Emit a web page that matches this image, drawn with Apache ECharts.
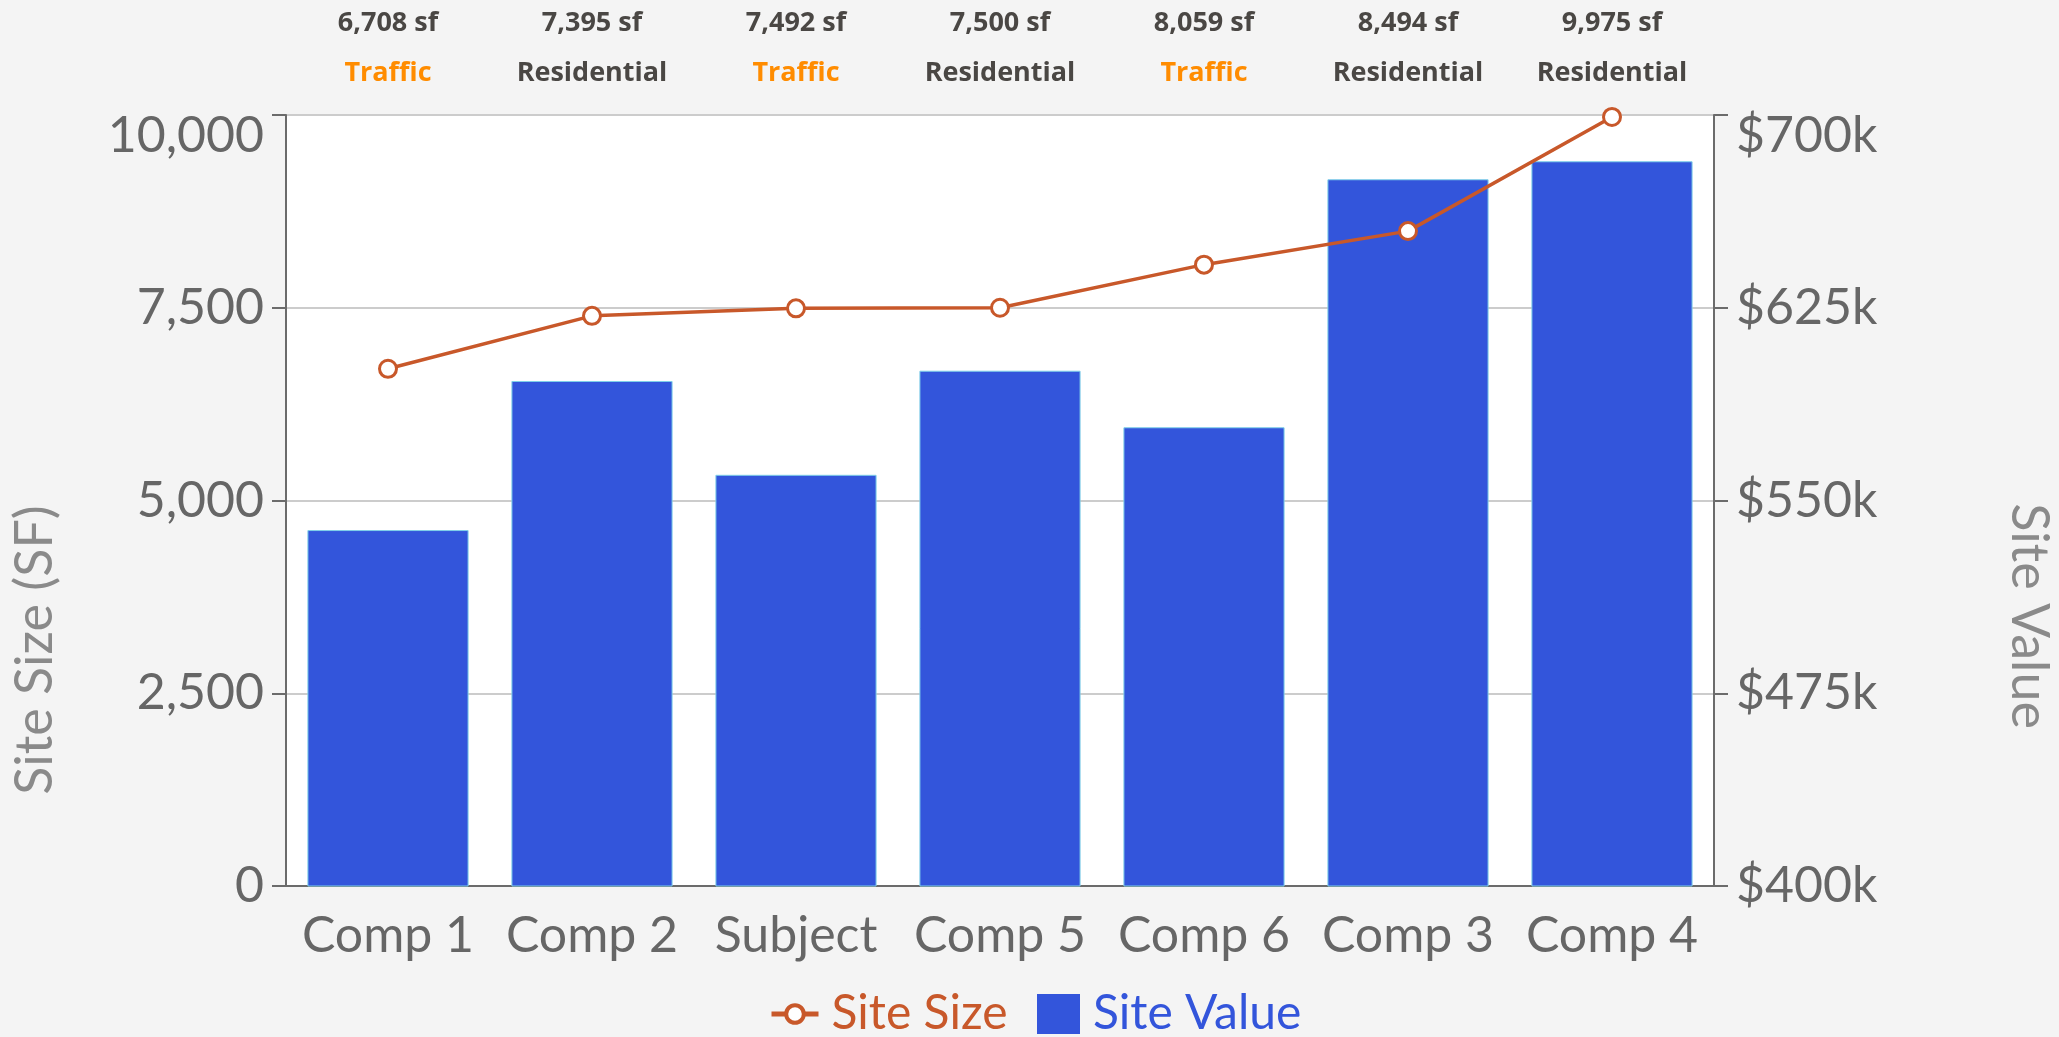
<!DOCTYPE html>
<html>
<head>
<meta charset="utf-8">
<title>Site Size and Site Value</title>
<script src="https://cdn.jsdelivr.net/npm/echarts@6/dist/echarts.min.js"></script>
<style>
  html, body { margin: 0; padding: 0; background: #f4f4f4; }
  #chart { width: 2059px; height: 1037px; }
</style>
</head>
<body>
<div id="chart"></div>
<script>
// Properties, in display order
const categories = ['Comp 1', 'Comp 2', 'Subject', 'Comp 5', 'Comp 6', 'Comp 3', 'Comp 4'];
// Site size in square feet (line, left axis)
const siteSize = [6708, 7395, 7492, 7500, 8059, 8494, 9975];
// Site value in dollars (bars, right axis)
const siteValue = [538500, 596500, 560000, 600500, 578500, 675000, 682000];
// Frontage type shown above each property
const frontage = ['Traffic', 'Residential', 'Traffic', 'Residential', 'Traffic', 'Residential', 'Residential'];
// Axis ranges
const sizeTicks = { min: 0, max: 10000, interval: 2500 };
const valueTicks = { min: 400000, max: 700000, interval: 75000 };

const FONT = 'Lato';
const AXIS_GRAY = '#6b6b6b';
const LABEL_GRAY = '#666666';
const NAME_GRAY = '#8a8a8a';
const LINE_COLOR = '#c8582a';
const BAR_COLOR = '#3355db';

// The top tick label of each value axis sits just below its gridline
function axisLabelStyle(fmt, maxValue) {
  return {
    color: LABEL_GRAY, fontSize: 50, fontFamily: FONT, margin: 22,
    formatter: v => (v === maxValue ? '{top|' + fmt(v) + '}' : fmt(v)),
    rich: { top: { color: LABEL_GRAY, fontSize: 50, fontFamily: FONT, padding: [42, 0, 0, 0] } }
  };
}

const chart = echarts.init(document.getElementById('chart'));

const legendText = { fontSize: 48, fontFamily: FONT, padding: [0, 0, 0, 8] };

chart.setOption({
  backgroundColor: '#f4f4f4',
  animation: false,
  textStyle: { fontFamily: FONT },
  grid: {
    left: 286, right: 345, top: 115, bottom: 151,
    show: true, backgroundColor: '#ffffff', borderWidth: 0
  },
  legend: [
    {
      left: 764, top: 985,
      itemWidth: 47, itemHeight: 22,
      textStyle: legendText,
      lineStyle: { width: 5 },
      itemStyle: { borderWidth: 4 },
      data: [{ name: 'Site Size', textStyle: { color: LINE_COLOR } }]
    },
    {
      left: 1032, top: 985,
      itemWidth: 43, itemHeight: 40,
      textStyle: legendText,
      itemStyle: { borderWidth: 0 },
      data: [{ name: 'Site Value', icon: 'rect', textStyle: { color: BAR_COLOR } }]
    }
  ],
  xAxis: [
    {
      type: 'category',
      data: categories,
      position: 'bottom',
      axisLine: { lineStyle: { color: AXIS_GRAY, width: 2 } },
      axisTick: { alignWithLabel: true, length: 16, lineStyle: { color: AXIS_GRAY, width: 2 } },
      axisLabel: { color: LABEL_GRAY, fontSize: 50, fontFamily: FONT, margin: 25, interval: 0 }
    },
    {
      type: 'category',
      data: categories,
      position: 'top',
      axisLine: { show: false },
      axisTick: { show: false },
      axisLabel: {
        interval: 0,
        margin: 17,
        formatter: function (v, i) {
          const kind = frontage[i] === 'Traffic' ? 't' : 'r';
          return '{s|' + siteSize[i].toLocaleString('en-US') + ' sf}\n{' + kind + '|' + frontage[i] + '}';
        },
        rich: {
          s: { fontFamily: 'Open Sans', fontWeight: 'bold', fontSize: 27, color: '#4a4744', lineHeight: 50 },
          t: { fontFamily: 'Open Sans', fontWeight: 'bold', fontSize: 27, color: '#ff8c00', lineHeight: 50 },
          r: { fontFamily: 'Open Sans', fontWeight: 'bold', fontSize: 27, color: '#4a4744', lineHeight: 50 }
        }
      }
    }
  ],
  yAxis: [
    {
      type: 'value',
      position: 'left',
      min: sizeTicks.min, max: sizeTicks.max, interval: sizeTicks.interval,
      axisLine: { show: true, lineStyle: { color: AXIS_GRAY, width: 2 } },
      axisTick: { show: true, length: 14, lineStyle: { color: AXIS_GRAY, width: 2 } },
      axisLabel: axisLabelStyle(v => v.toLocaleString('en-US'), sizeTicks.max),
      splitLine: { show: true, lineStyle: { color: '#cccccc', width: 2 } }
    },
    {
      type: 'value',
      position: 'right',
      min: valueTicks.min, max: valueTicks.max, interval: valueTicks.interval,
      axisLine: { show: true, lineStyle: { color: AXIS_GRAY, width: 2 } },
      axisTick: { show: true, length: 14, lineStyle: { color: AXIS_GRAY, width: 2 } },
      axisLabel: axisLabelStyle(v => '$' + Math.round(v / 1000) + 'k', valueTicks.max),
      splitLine: { show: false }
    }
  ],
  graphic: [
    {
      type: 'text', x: 35, y: 650, rotation: Math.PI / 2,
      style: { text: 'Site Size (SF)', fill: NAME_GRAY, font: '52px Lato', align: 'center', verticalAlign: 'middle' }
    },
    {
      type: 'text', x: 2029, y: 616, rotation: -Math.PI / 2,
      style: { text: 'Site Value', fill: NAME_GRAY, font: '52px Lato', align: 'center', verticalAlign: 'middle' }
    }
  ],
  series: [
    {
      name: 'Site Value',
      type: 'bar',
      xAxisIndex: 0,
      yAxisIndex: 1,
      data: siteValue,
      barCategoryGap: '21%',
      itemStyle: { color: BAR_COLOR, borderColor: '#7fd0e8', borderWidth: 1 },
      z: 2
    },
    {
      name: 'Site Size',
      type: 'line',
      xAxisIndex: 0,
      yAxisIndex: 0,
      data: siteSize,
      symbol: 'circle',
      symbolSize: 17,
      lineStyle: { color: LINE_COLOR, width: 3.5 },
      itemStyle: { color: '#ffffff', borderColor: LINE_COLOR, borderWidth: 3 },
      z: 3
    }
  ]
});
</script>
</body>
</html>
